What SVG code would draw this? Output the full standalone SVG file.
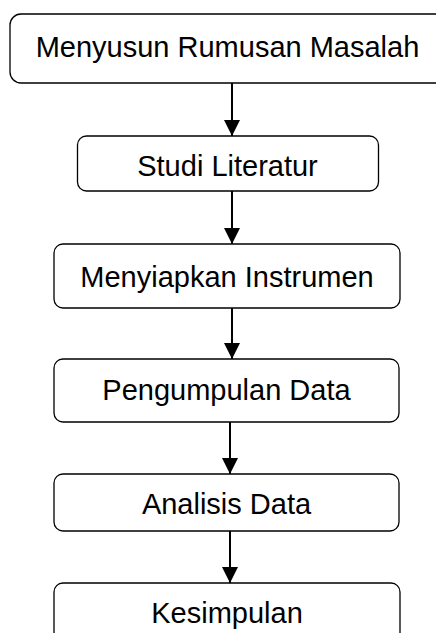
<svg xmlns="http://www.w3.org/2000/svg" width="436" height="633" viewBox="0 0 436 633">
<style>
.box{fill:#fff;stroke:#000;stroke-width:1.3}
.lbl{font-family:"Liberation Sans",Arial,sans-serif;font-size:29px;fill:#000;text-anchor:middle}
.conn{stroke:#000;stroke-width:2;fill:none}
</style>
<defs>
<marker id="ah" markerUnits="userSpaceOnUse" markerWidth="16" markerHeight="17" refX="16" refY="8" orient="auto">
<path d="M0,0 L16,8 L0,16 Z" fill="#000"/>
</marker>
</defs>
<rect width="436" height="633" fill="#fff"/>
<g id="connectors">
<line class="conn" x1="232" y1="83" x2="232" y2="136" marker-end="url(#ah)"/>
<line class="conn" x1="232" y1="191" x2="232" y2="244" marker-end="url(#ah)"/>
<line class="conn" x1="232" y1="308" x2="232" y2="359" marker-end="url(#ah)"/>
<line class="conn" x1="230" y1="422" x2="230" y2="474" marker-end="url(#ah)"/>
<line class="conn" x1="230" y1="531" x2="230" y2="583" marker-end="url(#ah)"/>
</g>
<g id="n1"><rect class="box" x="10" y="14" width="440" height="69" rx="11"/><text class="lbl" x="227.5" y="57">Menyusun Rumusan Masalah</text></g>
<g id="n2"><rect class="box" x="77.5" y="136" width="301" height="55" rx="9"/><text class="lbl" x="227.5" y="176">Studi Literatur</text></g>
<g id="n3"><rect class="box" x="54" y="244" width="346" height="64" rx="9"/><text class="lbl" x="227" y="287">Menyiapkan Instrumen</text></g>
<g id="n4"><rect class="box" x="54" y="359" width="345" height="63" rx="9"/><text class="lbl" x="226.5" y="400">Pengumpulan Data</text></g>
<g id="n5"><rect class="box" x="54" y="474" width="345" height="57" rx="9"/><text class="lbl" x="226.5" y="514">Analisis Data</text></g>
<g id="n6"><rect class="box" x="54" y="583" width="346" height="70" rx="9"/><text class="lbl" x="227" y="623">Kesimpulan</text></g>
</svg>
